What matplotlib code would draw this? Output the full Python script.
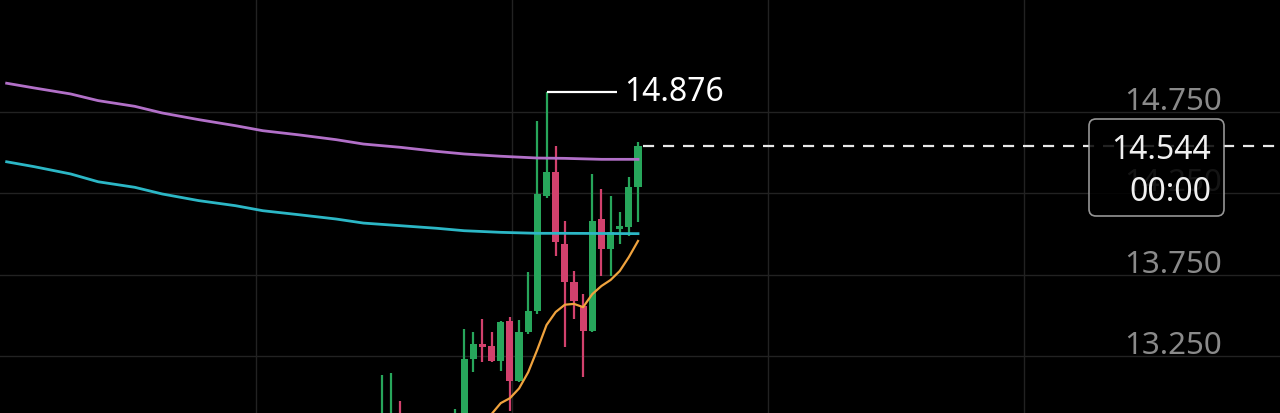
import matplotlib.pyplot as plt
from matplotlib.patches import FancyBboxPatch
from matplotlib.transforms import IdentityTransform

plt.rcParams['font.family'] = ['Noto Sans', 'DejaVu Sans']

W, H, DPI = 1280, 414, 100
BG = '#000000'
GREEN = '#27a65b'
RED = '#d2416d'
PURPLE = '#b270c8'
CYAN = '#2cb7c6'
ORANGE = '#f0a33e'
GRID = '#222222'
LABEL = '#8a8a8a'

# candles (index, open, high, low, close)
candle_idx = [41, 42, 43, 49, 50, 51, 52, 53, 54, 55, 56, 57, 58, 59,
              60, 61, 62, 63, 64, 65, 66, 67, 68, 69]
opens = [12.72, 12.75, 12.88, 12.60, 12.86, 13.231, 13.323, 13.313, 13.220, 13.466,
         13.098, 13.395, 13.528, 14.235, 14.379, 13.938, 13.703, 13.559, 13.405, 14.092,
         13.907, 14.030, 14.041, 14.287]
highs = [13.133, 13.145, 12.974, 12.923, 13.415, 13.395, 13.477, 13.395, 13.466, 13.487,
         13.473, 13.764, 14.697, 14.876, 14.543, 14.082, 13.774, 13.631, 14.369, 14.276,
         14.235, 14.133, 14.348, 14.568]
lows = [12.65, 12.70, 12.70, 12.55, 12.82, 13.149, 13.211, 13.211, 13.159, 12.913,
        13.088, 13.385, 13.508, 14.220, 13.866, 13.303, 13.477, 13.118, 13.395, 13.743,
        13.743, 13.938, 13.989, 14.072]
closes = [12.86, 12.88, 12.75, 12.85, 13.231, 13.323, 13.305, 13.220, 13.457, 13.098,
          13.395, 13.528, 14.246, 14.379, 13.949, 13.703, 13.590, 13.405, 14.082, 13.907,
          14.015, 14.051, 14.287, 14.544]

# moving averages
ma_long_idx = [0, 3, 7, 10, 14, 17, 21, 25, 28, 32, 36, 39, 43, 47, 50, 54, 58, 61, 65, 69]
ma_purple = [14.927, 14.898, 14.861, 14.820, 14.785, 14.744, 14.703, 14.666, 14.635,
             14.609, 14.580, 14.553, 14.533, 14.508, 14.492, 14.478, 14.467, 14.465,
             14.459, 14.459]
ma_cyan = [14.444, 14.414, 14.369, 14.321, 14.287, 14.246, 14.205, 14.174, 14.143,
           14.118, 14.092, 14.067, 14.051, 14.035, 14.020, 14.010, 14.004, 14.004,
           14.003, 14.002]
ma_short_idx = [52, 53, 54, 55, 56, 57, 58, 59, 60, 61, 62, 63, 64, 65, 66, 67, 68, 69]
ma_orange = [12.83, 12.893, 12.96, 12.99, 13.05, 13.15, 13.29, 13.44, 13.52, 13.565,
             13.57, 13.55, 13.63, 13.68, 13.717, 13.772, 13.858, 13.957]

price_grid = [14.75, 14.25, 13.75, 13.25]
price_labels = ['14.750', '14.250', '13.750', '13.250']
time_grid = [27.25, 55.2, 83.2, 111.2]

last_price = '14.544'
last_time = '00:00'
max_label = '14.876'

fig = plt.figure(figsize=(W / DPI, H / DPI), dpi=DPI, facecolor=BG)
ax = fig.add_axes([0, 0, 1, 1])
ax.set_facecolor(BG)
ax.set_xlim(-0.727, 139.16)
ax.set_ylim(12.899, 15.445)

ax.set_yticks(price_grid)
ax.set_xticks(time_grid)
ax.grid(True, color=GRID, linewidth=1.0)
ax.set_axisbelow(True)
ax.tick_params(length=0, labelleft=False, labelbottom=False)
for s in ax.spines.values():
    s.set_visible(False)

# candles
for i, o, h, l, c in zip(candle_idx, opens, highs, lows, closes):
    col = GREEN if c >= o else RED
    ax.vlines(i, l, h, color=col, linewidth=1.6, zorder=2)
    ax.bar(i, max(abs(c - o), 0.012), bottom=min(o, c), width=0.78,
           color=col, edgecolor='none', zorder=3)

ax.plot(ma_long_idx, ma_purple, color=PURPLE, linewidth=2.0, zorder=4)
ax.plot(ma_long_idx, ma_cyan, color=CYAN, linewidth=2.0, zorder=4)
ax.plot(ma_short_idx, ma_orange, color=ORANGE, linewidth=1.6, zorder=4)

# price axis labels
for v, lab in zip(price_grid, price_labels):
    ax.annotate(lab, xy=(0.955, v), xycoords=('axes fraction', 'data'),
                xytext=(0, 3), textcoords='offset pixels', ha='right', va='baseline',
                color=LABEL, fontsize=22.5, zorder=1)

# highest price marker
imax = candle_idx[highs.index(max(highs))]
ax.hlines(max(highs), imax, imax + 7.7, color='white', linewidth=1.6, zorder=5)
ax.text(imax + 8.5, max(highs), max_label, color='white', fontsize=23,
        ha='left', va='center', zorder=5)

# last price dashed line
ax.hlines(closes[-1], candle_idx[-1] + 0.5, 139.16, color='#e8e8e8', linewidth=1.6,
          linestyles=(0, (5, 4)), zorder=5)

box = FancyBboxPatch((1089, H - 217), 135, 97, boxstyle='round,pad=0,rounding_size=7',
                     transform=IdentityTransform(), facecolor=BG, alpha=0.85,
                     edgecolor='#b0b0b0', linewidth=1.2, zorder=6)
ax.add_patch(box)
ax.annotate(last_price, xy=(0.946, closes[-1]), xycoords=('axes fraction', 'data'),
            xytext=(0, -4), textcoords='offset pixels',
            ha='right', va='center', color='#f0f0f0', fontsize=23, zorder=7)
ax.annotate(last_time, xy=(0.946, closes[-1]), xycoords=('axes fraction', 'data'),
            xytext=(0, -46), textcoords='offset pixels',
            ha='right', va='center', color='#f0f0f0', fontsize=23, zorder=7)

fig.savefig('out.png', dpi=DPI, facecolor=BG)
